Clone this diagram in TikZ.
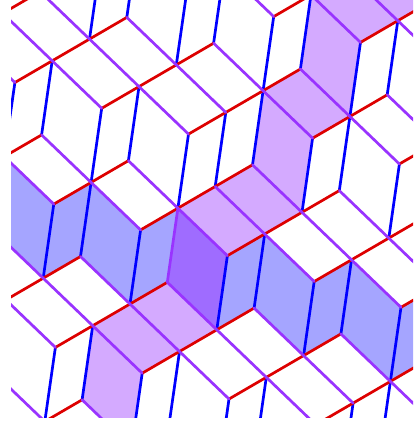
\documentclass[tikz,border=0pt]{standalone}
\definecolor{edgered}{RGB}{221,0,0}
\definecolor{edgeblue}{RGB}{0,0,255}
\definecolor{edgepurple}{RGB}{153,51,255}
\definecolor{fillpurple}{RGB}{212,170,255}
\definecolor{fillblue}{RGB}{165,165,255}
\definecolor{filldark}{RGB}{159,108,255}
\def\vx#1#2#3{({101.7+(#1)*37.3+(#2)*49.5-(#3)*10.6},{108.3-(#1)*21.7+(#2)*47.5+(#3)*74.1})}
\tikzset{
  redge/.style={draw=edgered,line width=2.7pt},
  bedge/.style={draw=edgeblue,line width=2.7pt},
  pedge/.style={draw=edgepurple,line width=2.7pt},
  lightface/.style={fill=fillpurple},
  blueface/.style={fill=fillblue},
  darkface/.style={fill=filldark}
}
\begin{document}
\begin{tikzpicture}[x=1pt,y=-1pt,line cap=round]
\useasboundingbox (0,0) rectangle (413,421);
\clip (11,0) rectangle (413,417);
% faces: (i,j,k) corner spanning r (i) and p (j)
\foreach \a/\b/\c in {-1/1/2,0/1/2,1/1/1,2/1/1,3/1/0,4/1/-1,5/1/-1}{
  \path[lightface] \vx{\a}{\b}{\c} -- \vx{\a+1}{\b}{\c} -- \vx{\a+1}{\b+1}{\c} -- \vx{\a}{\b+1}{\c} -- cycle;
}
% faces spanning p and b
\foreach \a/\b/\c in {-1/1/2,3/1/0,4/1/-1}{
  \path[lightface] \vx{\a}{\b}{\c} -- \vx{\a}{\b+1}{\c} -- \vx{\a}{\b+1}{\c+1} -- \vx{\a}{\b}{\c+1} -- cycle;
}
\foreach \a/\b/\c in {2/2/1,3/3/1,0/0/1,-1/-1/1}{
  \path[blueface] \vx{\a}{\b}{\c} -- \vx{\a}{\b+1}{\c} -- \vx{\a}{\b+1}{\c+1} -- \vx{\a}{\b}{\c+1} -- cycle;
}
% faces spanning r and b
\foreach \a/\b/\c in {1/2/1,2/3/1,3/4/1,0/1/1,-1/0/1}{
  \path[blueface] \vx{\a}{\b}{\c} -- \vx{\a+1}{\b}{\c} -- \vx{\a+1}{\b}{\c+1} -- \vx{\a}{\b}{\c+1} -- cycle;
}
\path[darkface] \vx{1}{1}{1} -- \vx{1}{2}{1} -- \vx{1}{2}{2} -- \vx{1}{1}{2} -- cycle;
% blue edges
\foreach \a/\b/\c in {1/-1/-1,2/-1/-1,2/0/-1,3/0/-1,3/1/-1,4/1/-1,4/2/-1,5/2/-1,
  -1/-1/0,0/-1/0,0/0/0,1/0/0,1/1/0,2/1/0,3/1/0,3/2/0,4/2/0,4/3/0,
  -1/0/1,0/0/1,0/1/1,1/2/1,2/2/1,2/3/1,3/3/1,3/4/1,
  -2/1/2,-1/1/2,-1/2/2,0/2/2,0/3/2,1/3/2,2/4/2,3/4/2}{
  \path[bedge] \vx{\a}{\b}{\c} -- \vx{\a}{\b}{\c+1};
}
% red edges
\foreach \a/\b/\c in {0/-2/0,-1/-1/0,0/-1/0,1/-1/0,0/0/0,1/0/0,2/0/0,1/1/0,2/1/0,3/1/0,3/2/0,4/2/0,4/3/0,
  -1/-1/1,-1/0/1,0/0/1,0/1/1,1/1/1,2/1/1,1/2/1,2/2/1,3/2/1,2/3/1,3/3/1,4/3/1,3/4/1,
  -2/0/2,-1/0/2,-2/1/2,-1/1/2,0/1/2,-1/2/2,0/2/2,1/2/2,0/3/2,1/3/2,2/3/2,1/4/2,2/4/2,3/4/2,
  -2/1/3,3/1/-1,4/1/-1,5/1/-1,4/2/-1,5/2/-1}{
  \path[redge] \vx{\a}{\b}{\c} -- \vx{\a+1}{\b}{\c};
}
% purple edges
\foreach \a/\b/\c in {0/-2/0,-1/-2/0,1/-2/0,0/-1/0,1/-1/0,2/-1/0,1/0/0,2/0/0,3/0/0,3/1/0,4/1/0,4/2/0,5/2/0,
  3/0/-1,4/1/-1,5/1/-1,5/2/-1,6/1/-1,
  -1/-1/1,0/-1/1,0/0/1,1/0/1,1/1/1,2/1/1,3/1/1,2/2/1,3/2/1,4/2/1,3/3/1,4/3/1,
  -1/-1/2,0/0/2,-1/0/2,0/1/2,1/1/2,-2/0/2,-1/1/2,0/2/2,1/2/2,2/2/2,2/3/2,1/3/2,3/3/2,3/4/2,
  -2/0/3,-1/1/3}{
  \path[pedge] \vx{\a}{\b}{\c} -- \vx{\a}{\b+1}{\c};
}
\path[pedge] \vx{1}{1}{1} -- \vx{1}{1}{2};
\end{tikzpicture}
\end{document}
